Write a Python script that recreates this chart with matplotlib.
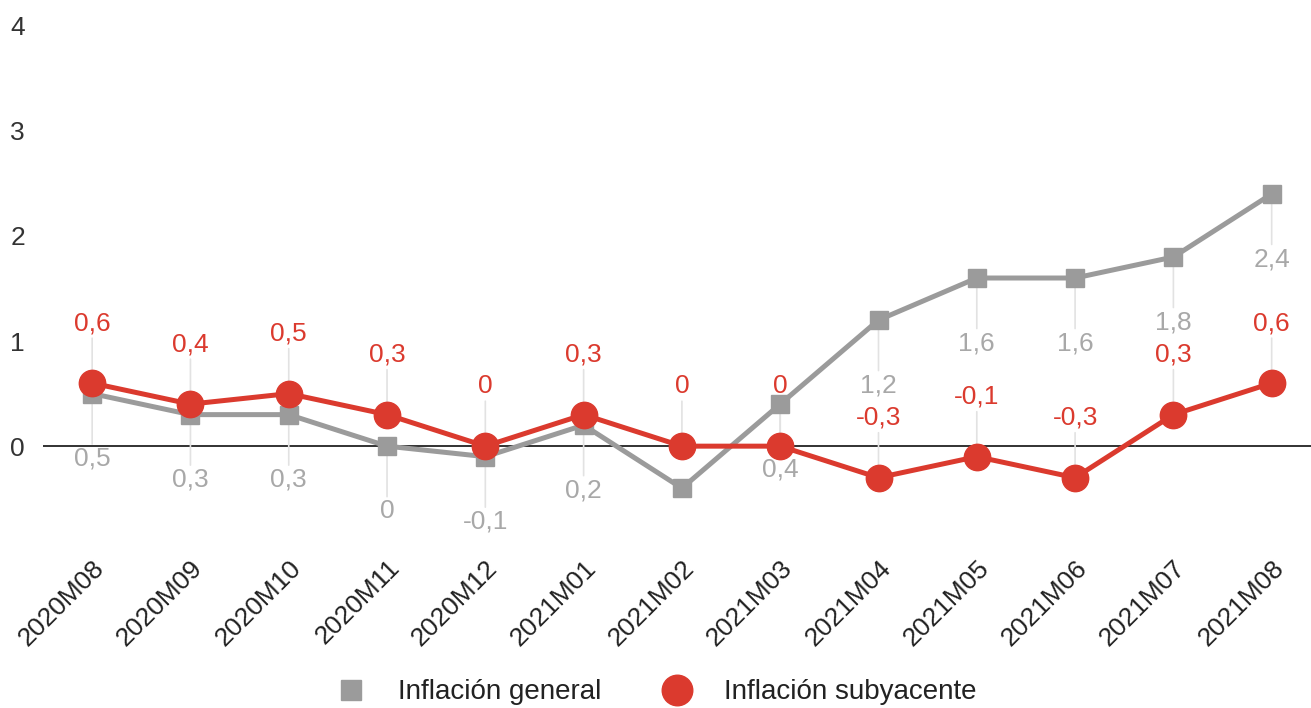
import matplotlib.pyplot as plt
from matplotlib.lines import Line2D

plt.rcParams['font.family'] = ['Liberation Sans', 'DejaVu Sans']

meses = ["2020M08", "2020M09", "2020M10", "2020M11", "2020M12", "2021M01",
         "2021M02", "2021M03", "2021M04", "2021M05", "2021M06", "2021M07",
         "2021M08"]
general = [0.5, 0.3, 0.3, 0.0, -0.1, 0.2, -0.4, 0.4, 1.2, 1.6, 1.6, 1.8, 2.4]
subyacente = [0.6, 0.4, 0.5, 0.3, 0.0, 0.3, 0.0, 0.0, -0.3, -0.1, -0.3, 0.3, 0.6]
yticks = [0, 1, 2, 3, 4]

GRIS = "#9b9b9b"
GRIS_TXT = "#a8a8a8"
ROJO = "#db3a2e"
GUIA = "#e2e2e2"


def fmt(v):
    return ("%g" % round(v, 1)).replace(".", ",")


fig = plt.figure(figsize=(13.11, 7.08), dpi=100)
ax = fig.add_axes([0.0328, 0.237, 0.9672, 0.735])
x = list(range(len(meses)))

ax.axhline(0, color="#222222", lw=1.3, zorder=1)

ax.plot(x, general, color=GRIS, lw=3.6, marker="s", ms=13, zorder=3)
ax.plot(x, subyacente, color=ROJO, lw=3.6, marker="o", ms=19, zorder=4)

ymin, ymax = -0.895, 4.057
ax.set_ylim(ymin, ymax)
ax.set_xlim(-0.5, 12.4)

# etiquetas de datos con linea guia
for i, v in enumerate(general):
    if v - 0.75 < ymin:
        continue
    ax.annotate(fmt(v), (i, v), xytext=(0, -47), textcoords="offset points",
                ha="center", va="center", fontsize=19, color=GRIS_TXT, zorder=2,
                arrowprops=dict(arrowstyle="-", color=GUIA, lw=1.2,
                                shrinkA=0, shrinkB=0))
for i, v in enumerate(subyacente):
    ax.annotate(fmt(v), (i, v), xytext=(0, 43), textcoords="offset points",
                ha="center", va="center", fontsize=19, color=ROJO, zorder=2,
                arrowprops=dict(arrowstyle="-", color=GUIA, lw=1.2,
                                shrinkA=0, shrinkB=0))

ax.set_yticks(yticks)
ax.set_yticklabels([str(t) for t in yticks], fontsize=19, color="#333333")
ax.set_xticks(x)
ax.set_xticklabels(meses, rotation=45, ha="right", va="top",
                   rotation_mode="anchor", fontsize=19, color="#222222")
ax.tick_params(axis="both", length=0)
ax.tick_params(axis="y", pad=13)
ax.tick_params(axis="x", pad=11)
for s in ax.spines.values():
    s.set_visible(False)

handles = [
    Line2D([], [], color=GRIS, marker="s", ls="none", ms=15),
    Line2D([], [], color=ROJO, marker="o", ls="none", ms=22),
]
fig.legend(handles, ["Inflación general", "Inflación subyacente"],
           loc="center", bbox_to_anchor=(0.5, 0.022), ncol=2, frameon=False,
           fontsize=20, handletextpad=1.1, columnspacing=2.1,
           handlelength=1.2, labelcolor="#222222")

fig.savefig("out.png", dpi=100)
